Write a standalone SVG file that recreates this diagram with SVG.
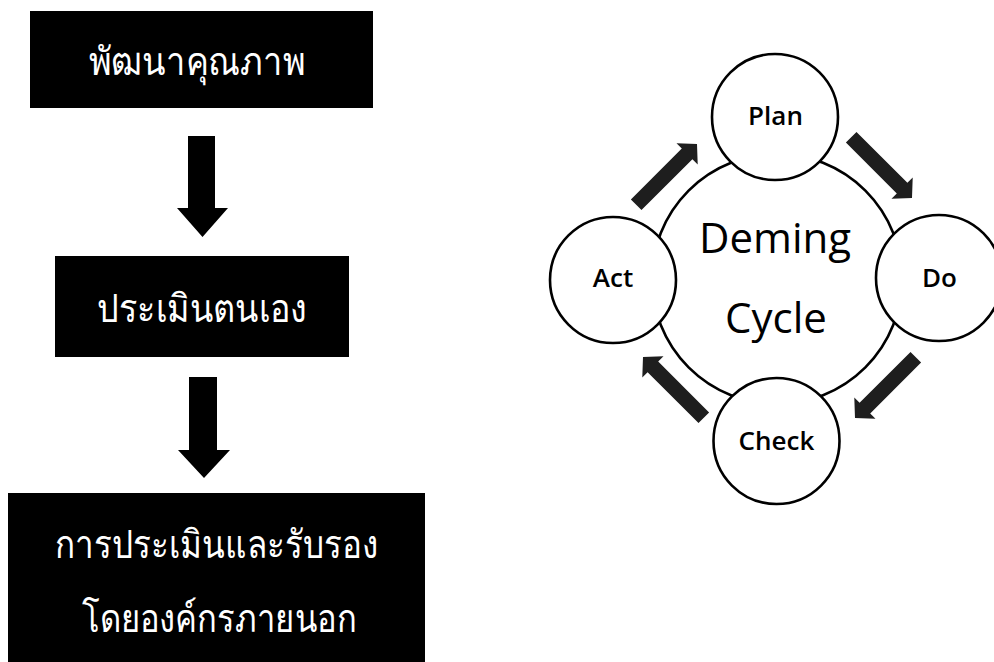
<svg xmlns="http://www.w3.org/2000/svg" width="994" height="662" viewBox="0 0 994 662">
<style>
.box{fill:#000}
.th{fill:#fff;font-family:"Liberation Serif","Noto Sans",serif;font-size:39px;text-anchor:middle}
.circ{fill:#fff;stroke:#000;stroke-width:2.6}
.lbl{font-family:"Open Sans","Noto Sans",sans-serif;font-weight:600;font-size:26px;text-anchor:middle;fill:#000}
.big{font-family:"Open Sans","Noto Sans",sans-serif;font-weight:500;font-size:42px;text-anchor:middle;fill:#000}
.arr{fill:#000}
.carr{fill:#1e1e1e}
</style>
<defs>
<path id="ca" d="M -86,-7.5 L -14,-7.5 L -14,-15 L 0,0 L -14,15 L -14,7.5 L -86,7.5 Z"/>
</defs>
<g id="box1"><rect class="box" x="30" y="11" width="343" height="97"/><text class="th" x="197" y="75" textLength="217" lengthAdjust="spacingAndGlyphs">พัฒนาคุณภาพ</text></g>
<g id="box2"><rect class="box" x="55" y="256" width="294" height="101"/><text class="th" x="202" y="322" textLength="210" lengthAdjust="spacingAndGlyphs">ประเมินตนเอง</text></g>
<g id="box3"><rect class="box" x="8" y="493" width="417" height="169"/><text class="th" x="216.5" y="558" textLength="323" lengthAdjust="spacingAndGlyphs">การประเมินและรับรอง</text><text class="th" x="219.5" y="632" textLength="275" lengthAdjust="spacingAndGlyphs">โดยองค์กรภายนอก</text></g>
<g id="cycle-ring"><circle cx="777" cy="279" r="125" fill="none" stroke="#000" stroke-width="2.6"/></g>
<g id="plan"><circle class="circ" cx="775" cy="117" r="63"/><text class="lbl" x="775.5" y="125">Plan</text></g>
<g id="do"><circle class="circ" cx="939" cy="278" r="63"/><text class="lbl" x="939.5" y="287">Do</text></g>
<g id="check"><circle class="circ" cx="776.5" cy="441" r="63"/><text class="lbl" x="776.5" y="450">Check</text></g>
<g id="act"><circle class="circ" cx="613" cy="280" r="63"/><text class="lbl" x="613" y="287">Act</text></g>
<g id="center-label"><text class="big" x="775" y="253">Deming</text><text class="big" x="776" y="333">Cycle</text></g>
<g id="connectors">
<path class="arr" d="M188,136 H215 V208 H228 L202.5,237 L177,208 H188 Z"/>
<path class="arr" d="M189,377 H217 V450 H230 L204,478 L178,450 H189 Z"/>
<use href="#ca" class="carr" transform="translate(697,144) rotate(-45)"/>
<use href="#ca" class="carr" transform="translate(912,198) rotate(45)"/>
<use href="#ca" class="carr" transform="translate(855,418) rotate(135)"/>
<use href="#ca" class="carr" transform="translate(643,357) rotate(-135)"/>
</g>
</svg>
